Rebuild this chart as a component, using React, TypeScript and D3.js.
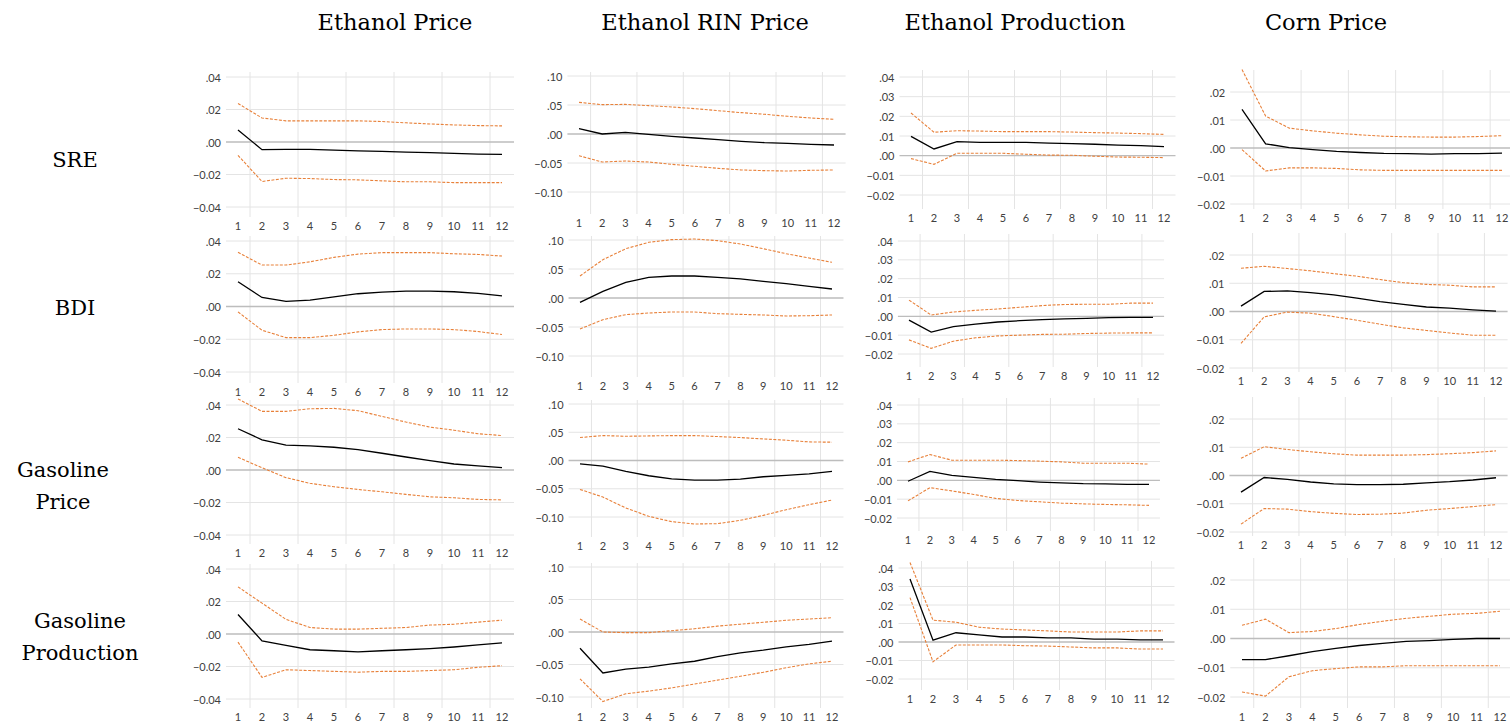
import React from 'react';
import * as d3 from 'd3';

// Forecast horizon (periods after the shock)
const periods = [1, 2, 3, 4, 5, 6, 7, 8, 9, 10, 11, 12];

const responseTitles = ['Ethanol Price', 'Ethanol RIN Price', 'Ethanol Production', 'Corn Price'];
const shockLabels = [['SRE'], ['BDI'], ['Gasoline', 'Price'], ['Gasoline', 'Production']];

// y-axis tick values for each response column
const ticksEthanolPrice = [0.04, 0.02, 0, -0.02, -0.04];
const ticksRinPrice = [0.1, 0.05, 0, -0.05, -0.1];
const ticksEthanolProduction = [0.04, 0.03, 0.02, 0.01, 0, -0.01, -0.02];
const ticksCornPrice = [0.02, 0.01, 0, -0.01, -0.02];
const columnTicks = [ticksEthanolPrice, ticksRinPrice, ticksEthanolProduction, ticksCornPrice];

// ---- Impulse responses: response, upper band, lower band ----
// Shock: SRE
const sreEthanolPrice = {
  irf: [0.0074, -0.0047, -0.0045, -0.0045, -0.005, -0.0054, -0.0058, -0.0062, -0.0066, -0.007, -0.0074, -0.0076],
  upper: [0.0237, 0.0148, 0.013, 0.013, 0.013, 0.013, 0.0126, 0.0118, 0.0111, 0.0105, 0.0101, 0.0099],
  lower: [-0.0082, -0.0243, -0.0223, -0.0225, -0.0231, -0.0233, -0.0239, -0.0245, -0.0245, -0.025, -0.025, -0.025],
};
const sreRinPrice = {
  irf: [0.0092, 0.0, 0.0029, -0.0006, -0.004, -0.0069, -0.0098, -0.0126, -0.0149, -0.016, -0.0178, -0.019],
  upper: [0.0546, 0.0506, 0.0511, 0.0489, 0.0466, 0.0437, 0.0402, 0.0368, 0.034, 0.0305, 0.0276, 0.0253],
  lower: [-0.0374, -0.0483, -0.0466, -0.0483, -0.0523, -0.0557, -0.0592, -0.062, -0.0632, -0.0638, -0.0626, -0.062],
};
const sreEthanolProduction = {
  irf: [0.0098, 0.0034, 0.0071, 0.0068, 0.0068, 0.0068, 0.0064, 0.0061, 0.0058, 0.0054, 0.0051, 0.0046],
  upper: [0.0217, 0.0119, 0.0127, 0.0125, 0.0122, 0.0122, 0.0122, 0.012, 0.0117, 0.0115, 0.0112, 0.0108],
  lower: [-0.0015, -0.0044, 0.0012, 0.0012, 0.0012, 0.0007, 0.0003, 0.0002, -0.0003, -0.0007, -0.0008, -0.001],
};
const sreCornPrice = {
  irf: [0.0138, 0.0015, 0.0001, -0.0006, -0.0012, -0.0016, -0.0019, -0.002, -0.0022, -0.002, -0.002, -0.0018],
  upper: [0.028, 0.0114, 0.0071, 0.0061, 0.0053, 0.0047, 0.0042, 0.004, 0.0039, 0.0039, 0.0041, 0.0044],
  lower: [-0.0006, -0.0082, -0.0071, -0.0071, -0.0073, -0.0078, -0.008, -0.008, -0.008, -0.008, -0.008, -0.008],
};

// Shock: BDI
const bdiEthanolPrice = {
  irf: [0.0151, 0.0055, 0.0031, 0.0039, 0.0059, 0.0078, 0.0088, 0.0094, 0.0094, 0.009, 0.008, 0.0065],
  upper: [0.0331, 0.0253, 0.0253, 0.0273, 0.03, 0.032, 0.0329, 0.0329, 0.0329, 0.0322, 0.0318, 0.0308],
  lower: [-0.0033, -0.0145, -0.019, -0.019, -0.0176, -0.0155, -0.0141, -0.0137, -0.0137, -0.0141, -0.0153, -0.0171],
};
const bdiRinPrice = {
  irf: [-0.0075, 0.0115, 0.027, 0.0356, 0.0379, 0.0379, 0.0356, 0.0328, 0.0287, 0.0247, 0.0201, 0.0155],
  upper: [0.0379, 0.0661, 0.085, 0.096, 0.1006, 0.1017, 0.0989, 0.0931, 0.085, 0.0764, 0.069, 0.0615],
  lower: [-0.0534, -0.0374, -0.0287, -0.0259, -0.0241, -0.0241, -0.027, -0.0282, -0.0293, -0.031, -0.0305, -0.0293],
};
const bdiEthanolProduction = {
  irf: [-0.002, -0.0084, -0.0055, -0.0041, -0.003, -0.0023, -0.0018, -0.0014, -0.0011, -0.0007, -0.0005, -0.0005],
  upper: [0.0086, 0.0007, 0.0023, 0.0032, 0.0039, 0.0048, 0.0057, 0.0063, 0.0064, 0.0064, 0.007, 0.007],
  lower: [-0.0125, -0.017, -0.0132, -0.0114, -0.0104, -0.01, -0.0096, -0.0095, -0.0091, -0.0089, -0.0088, -0.0088],
};
const bdiCornPrice = {
  irf: [0.0019, 0.0071, 0.0073, 0.0067, 0.0059, 0.0047, 0.0035, 0.0025, 0.0016, 0.0012, 0.0006, 0.0001],
  upper: [0.0153, 0.016, 0.0152, 0.0144, 0.0134, 0.0125, 0.0113, 0.0102, 0.0096, 0.0093, 0.0087, 0.0087],
  lower: [-0.0113, -0.0019, -0.0002, -0.0006, -0.0018, -0.0031, -0.0045, -0.0058, -0.0067, -0.0076, -0.0084, -0.0084],
};

// Shock: Gasoline Price
const gasPriceEthanolPrice = {
  irf: [0.0254, 0.0186, 0.0153, 0.0148, 0.014, 0.0126, 0.0103, 0.008, 0.0058, 0.0037, 0.0025, 0.0014],
  upper: [0.0437, 0.0361, 0.0361, 0.0377, 0.0379, 0.0365, 0.033, 0.0295, 0.0264, 0.0245, 0.0223, 0.0212],
  lower: [0.0078, 0.0014, -0.0047, -0.0082, -0.0103, -0.012, -0.0134, -0.015, -0.0165, -0.0171, -0.0181, -0.0184],
};
const gasPriceRinPrice = {
  irf: [-0.0059, -0.01, -0.0194, -0.027, -0.0324, -0.0347, -0.0347, -0.0329, -0.0288, -0.0265, -0.0235, -0.0194],
  upper: [0.0406, 0.0441, 0.0429, 0.0435, 0.0441, 0.0441, 0.0424, 0.0406, 0.0382, 0.0359, 0.0329, 0.0324],
  lower: [-0.0512, -0.0647, -0.0841, -0.0988, -0.1082, -0.1124, -0.1118, -0.1059, -0.0971, -0.0871, -0.0782, -0.07],
};
const gasPriceEthanolProduction = {
  irf: [-0.0005, 0.0047, 0.0026, 0.0016, 0.0005, -0.0002, -0.0009, -0.0014, -0.0018, -0.0019, -0.0021, -0.0021],
  upper: [0.0098, 0.0137, 0.0107, 0.0107, 0.0107, 0.0105, 0.0102, 0.0098, 0.0091, 0.0091, 0.0091, 0.0086],
  lower: [-0.0109, -0.0039, -0.0056, -0.0075, -0.0096, -0.0107, -0.0114, -0.0121, -0.0125, -0.0128, -0.013, -0.0133],
};
const gasPriceCornPrice = {
  irf: [-0.0059, -0.0007, -0.0014, -0.0023, -0.003, -0.0032, -0.0032, -0.0031, -0.0026, -0.0022, -0.0016, -0.0008],
  upper: [0.0061, 0.0102, 0.0092, 0.0084, 0.0077, 0.0072, 0.0072, 0.0072, 0.0074, 0.0077, 0.0081, 0.0087],
  lower: [-0.0172, -0.0117, -0.0119, -0.0128, -0.0134, -0.0138, -0.0137, -0.0133, -0.0123, -0.0117, -0.011, -0.0103],
};

// Shock: Gasoline Production
const gasProdEthanolPrice = {
  irf: [0.012, -0.0042, -0.007, -0.0097, -0.0103, -0.011, -0.0103, -0.0097, -0.009, -0.008, -0.0067, -0.0055],
  upper: [0.029, 0.019, 0.009, 0.004, 0.003, 0.003, 0.0035, 0.004, 0.0055, 0.006, 0.0073, 0.0085],
  lower: [-0.005, -0.0267, -0.022, -0.0225, -0.023, -0.0235, -0.023, -0.023, -0.0225, -0.022, -0.0205, -0.0195],
};
const gasProdRinPrice = {
  irf: [-0.025, -0.063, -0.057, -0.054, -0.049, -0.045, -0.038, -0.032, -0.028, -0.023, -0.019, -0.014],
  upper: [0.02, 0.0, -0.001, -0.001, 0.002, 0.005, 0.009, 0.012, 0.015, 0.018, 0.02, 0.022],
  lower: [-0.072, -0.107, -0.095, -0.091, -0.086, -0.08, -0.074, -0.068, -0.062, -0.055, -0.049, -0.045],
};
const gasProdEthanolProduction = {
  irf: [0.034, 0.001, 0.005, 0.0038, 0.0027, 0.0027, 0.0022, 0.0022, 0.0016, 0.0016, 0.0011, 0.0011],
  upper: [0.043, 0.0118, 0.0107, 0.008, 0.007, 0.0065, 0.006, 0.0054, 0.0054, 0.0054, 0.006, 0.006],
  lower: [0.024, -0.0107, -0.0016, -0.0016, -0.0016, -0.002, -0.0022, -0.0027, -0.0032, -0.0032, -0.0038, -0.0038],
};
const gasProdCornPrice = {
  irf: [-0.0072, -0.0072, -0.0059, -0.0045, -0.0034, -0.0024, -0.0017, -0.001, -0.0007, -0.0003, 0.0, 0.0],
  upper: [0.0045, 0.0066, 0.002, 0.0024, 0.0034, 0.0048, 0.0059, 0.0069, 0.0076, 0.0083, 0.0086, 0.0093],
  lower: [-0.0183, -0.0197, -0.0131, -0.011, -0.0103, -0.0097, -0.0097, -0.0093, -0.0093, -0.0093, -0.0093, -0.0093],
};

const grid = [
  [sreEthanolPrice, sreRinPrice, sreEthanolProduction, sreCornPrice],
  [bdiEthanolPrice, bdiRinPrice, bdiEthanolProduction, bdiCornPrice],
  [gasPriceEthanolPrice, gasPriceRinPrice, gasPriceEthanolProduction, gasPriceCornPrice],
  [gasProdEthanolPrice, gasProdRinPrice, gasProdEthanolProduction, gasProdCornPrice],
];

// Panel placement: x of first/last period, y of top/bottom tick, y of the period labels
type Frame = { x1: number; x12: number; yT: number; yB: number; lab: number };
const frames: Frame[][] = [
  [
    { x1: 238, x12: 502, yT: 77, yB: 207, lab: 225 },
    { x1: 579, x12: 834, yT: 76, yB: 192, lab: 222 },
    { x1: 911, x12: 1164, yT: 77, yB: 195, lab: 217 },
    { x1: 1242, x12: 1502, yT: 92, yB: 204, lab: 217 },
  ],
  [
    { x1: 238, x12: 502, yT: 241, yB: 372, lab: 391 },
    { x1: 580, x12: 832, yT: 240, yB: 356, lab: 385 },
    { x1: 909, x12: 1153, yT: 241, yB: 354, lab: 375 },
    { x1: 1241, x12: 1496, yT: 255, yB: 368, lab: 380 },
  ],
  [
    { x1: 238, x12: 502, yT: 405, yB: 535, lab: 552 },
    { x1: 580, x12: 832, yT: 404, yB: 517, lab: 545 },
    { x1: 908, x12: 1149, yT: 405, yB: 518, lab: 539 },
    { x1: 1241, x12: 1496, yT: 419, yB: 532, lab: 544 },
  ],
  [
    { x1: 238, x12: 502, yT: 569, yB: 699, lab: 716 },
    { x1: 580, x12: 832, yT: 567, yB: 697, lab: 716 },
    { x1: 910, x12: 1163, yT: 568, yB: 679, lab: 698 },
    { x1: 1242, x12: 1500, yT: 580, yB: 697, lab: 716 },
  ],
];
// how far the vertical gridlines rise above the top tick, per column
const gridHeadroom = [5, 4, 7, 22];

const titleX = [395, 705, 1015, 1326];
const shockLabelPos = [
  { x: 75, y: 160 },
  { x: 75, y: 308 },
  { x: 63, y: 486 },
  { x: 80, y: 637 },
];

const fmtTick = (v: number) => d3.format('.2f')(v).replace(/^(-?)0\./, '$1.');

const ORANGE = '#E8813A';
const LABEL_FONT = 'Lato, "Open Sans", sans-serif';
const SERIF = '"DejaVu Serif", "Liberation Serif", serif';

function Panel({ data, frame, ticks, headroom }: { data: any; frame: Frame; ticks: number[]; headroom: number }) {
  const x = d3.scalePoint<number>().domain(periods).range([frame.x1, frame.x12]);
  const step = x.step();
  const y = d3
    .scaleLinear()
    .domain([ticks[ticks.length - 1], ticks[0]])
    .range([frame.yB, frame.yT]);
  const left = frame.x1 - step / 2;
  const right = frame.x12 + step / 2;
  const vTop = frame.yT - headroom;
  const vBottom = frame.lab - 8;
  const line = d3
    .line<number>()
    .x((_, i) => x(periods[i]) as number)
    .y((d) => y(d));
  const vGrid = periods.filter((p) => p % 2 === 1).map((p) => (x(p) as number) + step / 2);

  return (
    <g>
      {vGrid.map((gx, i) => (
        <line key={'v' + i} x1={gx} x2={gx} y1={vTop} y2={vBottom} stroke="#e4e4e4" strokeWidth={1} />
      ))}
      {ticks.map((t) =>
        t === 0 ? null : (
          <line key={'h' + t} x1={left} x2={right} y1={y(t)} y2={y(t)} stroke="#e4e4e4" strokeWidth={1} />
        )
      )}
      <line x1={left} x2={right} y1={y(0)} y2={y(0)} stroke="#bdbdbd" strokeWidth={1.3} />
      {ticks.map((t) => (
        <text
          key={'yl' + t}
          x={left - 5}
          y={y(t)}
          textAnchor="end"
          dominantBaseline="central"
          fontFamily={LABEL_FONT}
          fontSize={11}
          fill="#404040"
        >
          {fmtTick(t)}
        </text>
      ))}
      {periods.map((p) => (
        <text
          key={'xl' + p}
          x={x(p)}
          y={frame.lab}
          textAnchor="middle"
          dominantBaseline="central"
          fontFamily={LABEL_FONT}
          fontSize={11}
          fill="#404040"
        >
          {p}
        </text>
      ))}
      <path d={line(data.upper) || ''} fill="none" stroke={ORANGE} strokeWidth={1.1} strokeDasharray="3 1.5" />
      <path d={line(data.lower) || ''} fill="none" stroke={ORANGE} strokeWidth={1.1} strokeDasharray="3 1.5" />
      <path d={line(data.irf) || ''} fill="none" stroke="#000" strokeWidth={1.3} />
    </g>
  );
}

export default function App() {
  return (
    <svg
      width={1510}
      height={726}
      style={{ position: 'absolute', left: 0, top: 0, display: 'block', background: '#fff' }}
    >
      {responseTitles.map((t, c) => (
        <text key={t} x={titleX[c]} y={22} textAnchor="middle" dominantBaseline="central" fontFamily={SERIF} fontSize={22.5} fill="#000">
          {t}
        </text>
      ))}
      {shockLabels.map((lines, r) => (
        <text
          key={r}
          x={shockLabelPos[r].x}
          y={shockLabelPos[r].y - ((lines.length - 1) * 32) / 2}
          textAnchor="middle"
          dominantBaseline="central"
          fontFamily={SERIF}
          fontSize={21}
          fill="#000"
        >
          {lines.map((l, i) => (
            <tspan key={i} x={shockLabelPos[r].x} dy={i === 0 ? 0 : 32}>
              {l}
            </tspan>
          ))}
        </text>
      ))}
      {grid.map((row, r) =>
        row.map((data, c) => (
          <Panel key={r + '-' + c} data={data} frame={frames[r][c]} ticks={columnTicks[c]} headroom={gridHeadroom[c]} />
        ))
      )}
    </svg>
  );
}
